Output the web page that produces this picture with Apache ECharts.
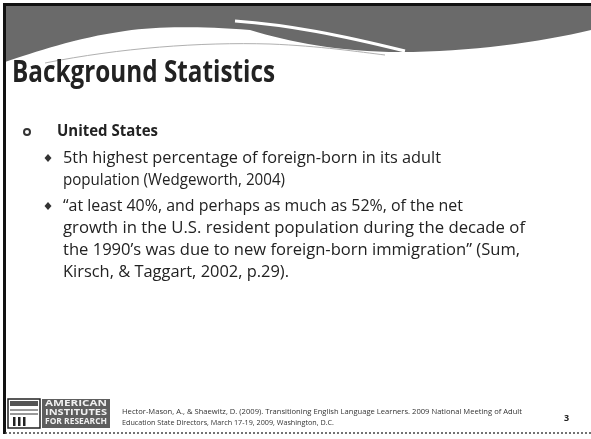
<!DOCTYPE html>
<html><head><meta charset="utf-8">
<script src="https://cdn.jsdelivr.net/npm/echarts@6/dist/echarts.min.js"></script>
<style>html,body{margin:0;padding:0;background:#fff}#c{width:591px;height:439px}</style>
</head><body><div id="c"></div>
<script>
// ---- content ----
const titleText = 'Background Statistics';
const level1Items = ['United States'];
const bulletGroups = [
  ['5th highest percentage of foreign-born in its adult',
   'population (Wedgeworth, 2004)'],
  ['\u201Cat least 40%, and perhaps as much as 52%, of the net',
   'growth in the U.S. resident population during the decade of',
   'the 1990\u2019s was due to new foreign-born immigration\u201D (Sum,',
   'Kirsch, & Taggart, 2002, p.29).']
];
const footerLines = [
  'Hector-Mason, A., & Shaewitz, D. (2009). Transitioning English Language Learners. 2009 National Meeting of Adult',
  'Education State Directors, March 17-19, 2009, Washington, D.C.'
];
const logoLines = ['AMERICAN', 'INSTITUTES', 'FOR RESEARCH'];
const pageNumber = '3';

const bodyWidths = [[378, 222], [400, 462, 457, 226]];
const bodyCentres = [[158, 180], [206, 228, 250, 272]];
const footerWidths = [400, 212];

const ctx = document.createElement('canvas').getContext('2d');
function measure(text, font) { ctx.font = font; return ctx.measureText(text).width; }
const FAM = '"Open Sans"';
function fontStr(size, weight) { return weight + ' ' + size + 'px ' + FAM; }
function textEl(text, x, y, size, weight, fill, scaleX, z) {
  return {
    type: 'text', x: x, y: y, z: z || 10, scaleX: scaleX || 1,
    style: { text: text, fontFamily: 'Open Sans', fontSize: size, fontWeight: weight,
             fill: fill, textAlign: 'left', textVerticalAlign: 'middle' }
  };
}
function fitEl(text, x, y, size, weight, fill, target, z) {
  return textEl(text, x, y, size, weight, fill, target / measure(text, fontStr(size, weight)), z);
}
// sample a chain of cubic bezier segments into points (decoration outline)
function bez(p0, segs) {
  const pts = [p0];
  let cur = p0;
  segs.forEach(function (s) {
    for (let i = 1; i <= 16; i++) {
      const t = i / 16, u = 1 - t;
      pts.push([
        u*u*u*cur[0] + 3*u*u*t*s[0][0] + 3*u*t*t*s[1][0] + t*t*t*s[2][0],
        u*u*u*cur[1] + 3*u*u*t*s[0][1] + 3*u*t*t*s[1][1] + t*t*t*s[2][1]
      ]);
    }
    cur = s[2];
  });
  return pts;
}

const els = [];
// header band
const bandPts = [[5, 5], [591, 5]].concat(bez([591, 30], [
  [[540, 42], [470, 52], [400, 52]],
  [[340, 52], [290, 42], [250, 30]],
  [[200, 26], [160, 26], [125, 31]],
  [[75, 38], [35, 52], [5, 62]]
]));
els.push({ type: 'polygon', z: 1, shape: { points: bandPts }, style: { fill: '#6a6a6a' } });
els.push({ type: 'bezierCurve', z: 2, shape: { x1: 235, y1: 21, cpx1: 290, cpy1: 25, cpx2: 340, cpy2: 35, x2: 405, y2: 51 },
  style: { fill: 'none', stroke: '#ffffff', lineWidth: 3 } });
els.push({ type: 'polyline', z: 2, shape: { points: bez([45, 63], [
  [[120, 48], [200, 42], [270, 44]], [[320, 46], [360, 52], [385, 55]]]) },
  style: { fill: 'none', stroke: '#b0b0b0', lineWidth: 1 } });
// borders
els.push({ type: 'rect', z: 3, shape: { x: 3, y: 4, width: 3, height: 430 }, style: { fill: '#111' } });
els.push({ type: 'rect', z: 3, shape: { x: 3, y: 3, width: 588, height: 3 }, style: { fill: '#111' } });
els.push({ type: 'line', z: 3, shape: { x1: 5, y1: 433, x2: 591, y2: 433 },
  style: { stroke: '#444', lineWidth: 1.5, lineDash: [2, 2] } });

// title
els.push(fitEl(titleText, 12, 73, 31, 'bold', '#222', 263));
// level 1 bullet
els.push({ type: 'circle', z: 10, shape: { cx: 27, cy: 132, r: 3 },
  style: { fill: '#fff', stroke: '#333', lineWidth: 2 } });
els.push(fitEl(level1Items[0], 57, 131, 16, 'bold', '#222', 101));
// level 2
bulletGroups.forEach(function (g, gi) {
  const cy = bodyCentres[gi][0];
  els.push({ type: 'polygon', z: 10, shape: { points: [[48, cy - 4], [51.5, cy], [48, cy + 4], [44.5, cy]] },
    style: { fill: '#333' } });
  g.forEach(function (line, li) {
    els.push(fitEl(line, 63, bodyCentres[gi][li], 16, 'normal', '#222', bodyWidths[gi][li]));
  });
});

// logo
els.push({ type: 'rect', z: 5, shape: { x: 8, y: 399, width: 32, height: 29 },
  style: { fill: '#fff', stroke: '#222', lineWidth: 1.5 } });
els.push({ type: 'rect', z: 6, shape: { x: 10, y: 401, width: 28, height: 5 }, style: { fill: '#555' } });
els.push({ type: 'line', z: 6, shape: { x1: 10, y1: 410, x2: 38, y2: 410 }, style: { stroke: '#333', lineWidth: 1 } });
els.push({ type: 'line', z: 6, shape: { x1: 10, y1: 414, x2: 38, y2: 414 }, style: { stroke: '#333', lineWidth: 1 } });
[13, 18, 23].forEach(function (x) {
  els.push({ type: 'rect', z: 6, shape: { x: x, y: 417, width: 2.5, height: 9 }, style: { fill: '#222' } });
});
els.push({ type: 'rect', z: 5, shape: { x: 42, y: 399, width: 68, height: 29 }, style: { fill: '#5e5e5e' } });
logoLines.forEach(function (t, i) {
  els.push(fitEl(t, 45, 404 + i * 9, 8, 'bold', '#f0f0f0', 62, 7));
});
// footer
footerLines.forEach(function (t, i) {
  els.push(fitEl(t, 122, 412 + i * 11, 7, 'normal', '#333', footerWidths[i]));
});
els.push(textEl(pageNumber, 564, 418, 9, 'bold', '#222'));

const chart = echarts.init(document.getElementById('c'), null, { renderer: 'canvas' });
chart.setOption({ backgroundColor: '#ffffff', animation: false, graphic: { elements: els } });
</script></body></html>
